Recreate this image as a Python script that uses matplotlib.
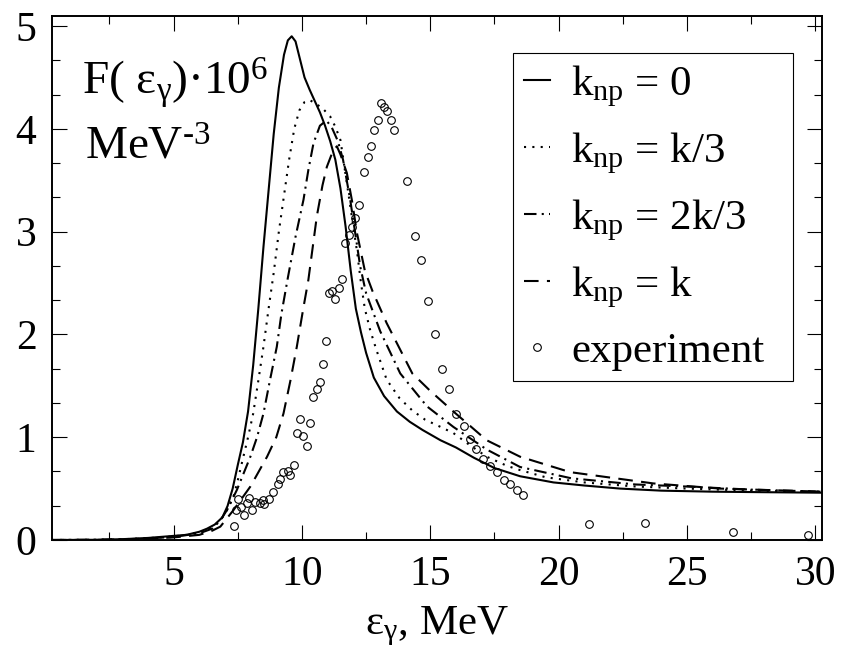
import numpy as np
import matplotlib.pyplot as plt
from matplotlib.ticker import MultipleLocator

plt.rcParams['font.family'] = ['Liberation Serif', 'DejaVu Serif']
plt.rcParams['mathtext.fontset'] = 'custom'
plt.rcParams['mathtext.rm'] = 'Liberation Serif'
plt.rcParams['mathtext.it'] = 'Liberation Serif:italic'

# k_np = 0
x0 = [0.25, 2, 3, 4, 4.5, 5, 5.5, 6, 6.3, 6.6, 6.9, 7.1, 7.3, 7.5, 7.7, 7.9, 8.1, 8.3,
      8.5, 8.7, 8.9, 9.1, 9.3, 9.45, 9.6, 9.75, 9.9, 10.1, 10.3, 10.5, 10.7, 10.9, 11.1,
      11.3, 11.5, 11.7, 11.9, 12.1, 12.3, 12.5, 12.8, 13.2, 13.7, 14.2, 14.7, 15.4, 16,
      16.7, 17.5, 18.5, 19.8, 21, 22.4, 24, 26, 28, 30.25]
y0 = [0.0, 0.002, 0.008, 0.02, 0.03, 0.04, 0.05, 0.08, 0.11, 0.15, 0.22, 0.33, 0.5, 0.73,
      0.95, 1.25, 1.7, 2.25, 2.85, 3.4, 3.95, 4.4, 4.72, 4.86, 4.9, 4.85, 4.7, 4.5, 4.38,
      4.27, 4.16, 4.03, 3.88, 3.7, 3.42, 3.05, 2.62, 2.25, 2.02, 1.82, 1.58, 1.4, 1.25,
      1.15, 1.07, 0.97, 0.9, 0.8, 0.7, 0.62, 0.56, 0.53, 0.5, 0.48, 0.47, 0.465, 0.46]

# k_np = k/3
x1 = [0.25, 2, 3, 4, 5, 5.5, 6, 6.3, 6.6, 6.9, 7.1, 7.33, 7.5, 7.66, 7.9, 8.1, 8.3, 8.5,
      8.7, 8.9, 9.1, 9.3, 9.5, 9.7, 9.9, 10.1, 10.3, 10.5, 10.8, 11.1, 11.3, 11.5, 11.75,
      12.0, 12.15, 12.3, 12.45, 12.66, 12.9, 13.3, 13.8, 14.3, 14.8, 15.4, 15.9, 16.5,
      17.2, 18.0, 18.5, 19.5, 21, 23, 25, 27.5, 30.25]
y1 = [0.0, 0.002, 0.007, 0.018, 0.035, 0.05, 0.075, 0.1, 0.14, 0.22, 0.3, 0.42, 0.58,
      0.75, 1.0, 1.23, 1.55, 1.88, 2.25, 2.6, 3.0, 3.35, 3.7, 4.0, 4.18, 4.26, 4.28, 4.25,
      4.2, 4.12, 4.02, 3.89, 3.47, 3.05, 2.8, 2.5, 2.25, 2.04, 1.85, 1.56, 1.38, 1.26,
      1.17, 1.1, 1.04, 0.93, 0.81, 0.72, 0.68, 0.61, 0.56, 0.52, 0.5, 0.48, 0.47]

# k_np = 2k/3
x2 = [0.25, 2, 3, 4, 5, 6, 6.5, 6.82, 7.1, 7.47, 7.99, 8.25, 8.5, 8.75, 9.02, 9.2, 9.45,
      9.75, 10.06, 10.25, 10.45, 10.7, 10.95, 11.15, 11.4, 11.6, 11.88, 12.27, 12.5, 13.05,
      13.83, 14.87, 15.9, 17.2, 18.5, 20.5, 23, 25, 27.5, 30.25]
y2 = [0.0, 0.002, 0.006, 0.015, 0.03, 0.065, 0.11, 0.19, 0.3, 0.49, 0.81, 1.0, 1.23, 1.55,
      1.88, 2.2, 2.55, 2.95, 3.31, 3.6, 3.86, 4.03, 4.08, 4.02, 3.88, 3.7, 3.31, 2.66,
      2.4, 2.03, 1.62, 1.3, 1.1, 0.88, 0.71, 0.6, 0.54, 0.52, 0.49, 0.47]

# k_np = k
x3 = [0.25, 2, 3, 4, 5, 6, 6.5, 6.82, 7.33, 7.99, 8.64, 9.0, 9.28, 9.55, 9.8, 10.05,
      10.25, 10.58, 10.8, 10.97, 11.2, 11.36, 11.5, 11.75, 11.95, 12.14, 12.45, 12.75,
      13.3, 14.3, 15.0, 15.9, 17.2, 18.5, 20.45, 23.7, 26.3, 30.25]
y3 = [0.0, 0.001, 0.005, 0.012, 0.025, 0.05, 0.09, 0.13, 0.29, 0.52, 0.81, 1.0, 1.23, 1.55,
      1.88, 2.25, 2.53, 3.15, 3.45, 3.63, 3.78, 3.83, 3.75, 3.57, 3.3, 2.99, 2.62, 2.42,
      2.11, 1.62, 1.45, 1.25, 0.97, 0.81, 0.66, 0.55, 0.5, 0.47]

# experiment
x_exp = [7.34, 7.44, 7.49, 7.64, 7.73, 7.86, 7.92, 8.05, 8.18, 8.38, 8.50, 8.54, 8.70,
         8.89, 9.05, 9.15, 9.28, 9.44, 9.54, 9.70, 9.80, 9.91, 10.04, 10.19, 10.32, 10.43,
         10.58, 10.69, 10.82, 10.92, 11.06, 11.18, 11.30, 11.45, 11.57, 11.69, 11.84, 11.95,
         12.08, 12.23, 12.43, 12.57, 12.69, 12.82, 12.95, 13.08, 13.21, 13.31, 13.47, 13.60,
         14.09, 14.39, 14.65, 14.91, 15.17, 15.45, 15.74, 16.01, 16.30, 16.53, 16.79, 17.05,
         17.31, 17.60, 17.88, 18.11, 18.38, 18.63, 21.2, 23.35, 26.8, 29.7]
y_exp = [0.14, 0.29, 0.40, 0.32, 0.24, 0.36, 0.41, 0.29, 0.37, 0.36, 0.39, 0.35, 0.40,
         0.47, 0.54, 0.59, 0.66, 0.67, 0.63, 0.73, 1.04, 1.18, 1.01, 0.91, 1.14, 1.39,
         1.47, 1.54, 1.71, 1.94, 2.40, 2.42, 2.34, 2.45, 2.54, 2.89, 2.97, 3.04,
         3.13, 3.26, 3.58, 3.73, 3.83, 3.99, 4.09, 4.25, 4.21, 4.17, 4.09, 3.99,
         3.49, 2.96, 2.72, 2.32, 2.00, 1.66, 1.47, 1.23, 1.11, 0.98, 0.89, 0.79,
         0.72, 0.66, 0.58, 0.54, 0.49, 0.44, 0.16, 0.17, 0.08, 0.05]

fig = plt.figure(figsize=(8.45, 6.66), dpi=100)
ax = fig.add_axes([0.0612, 0.1892, 0.9112, 0.7872])

lw = 1.5
ax.plot(x0, y0, color='black', lw=lw, ls='-', label=r'k$_{\mathrm{np}}$ = 0')
ax.plot(x1, y1, color='black', lw=lw, ls=(0, (1, 3)), label=r'k$_{\mathrm{np}}$ = k/3')
ax.plot(x2, y2, color='black', lw=lw, ls=(0, (6, 2.5, 1, 2.5)), label=r'k$_{\mathrm{np}}$ = 2k/3')
ax.plot(x3, y3, color='black', lw=lw, ls=(0, (7, 4)), label=r'k$_{\mathrm{np}}$ = k')
ax.plot(x_exp, y_exp, ls='none', marker='o', ms=5.5, mfc='none', mec='black', mew=0.8,
        label='experiment')

ax.set_xlim(0.25, 30.25)
ax.set_ylim(0, 5.1)
ax.xaxis.set_major_locator(MultipleLocator(5))
ax.xaxis.set_minor_locator(MultipleLocator(2.5))
ax.yaxis.set_major_locator(MultipleLocator(1))
ax.yaxis.set_minor_locator(MultipleLocator(1 / 3))
ax.tick_params(which='both', direction='in', top=True, right=True, width=0.8, labelsize=30, pad=11)
ax.tick_params(which='major', length=11)
ax.tick_params(which='minor', length=5.5)
for s in ax.spines.values():
    s.set_linewidth(1.4)

ax.set_xlabel(r'ε$_{\mathrm{\gamma}}$, MeV', fontsize=31, labelpad=8)

ax.text(0.0394, 0.849, r'F( ε$_{\mathrm{\gamma}}$)·10$^{6}$', transform=ax.transAxes,
        fontsize=34, va='baseline', ha='left')
ax.text(0.043, 0.7267, 'MeV$^{\u20103}$', transform=ax.transAxes,
        fontsize=34, va='baseline', ha='left')

leg = ax.legend(loc='upper left', bbox_to_anchor=(0.599, 0, 0.3636, 0.9289), mode='expand',
                borderaxespad=0, fontsize=31, handlelength=0.6, handletextpad=0.5,
                borderpad=0.25, labelspacing=0.5, frameon=True, fancybox=False,
                framealpha=1, edgecolor='black')
leg.get_frame().set_linewidth(0.8)

fig.savefig('out.png', dpi=100)
